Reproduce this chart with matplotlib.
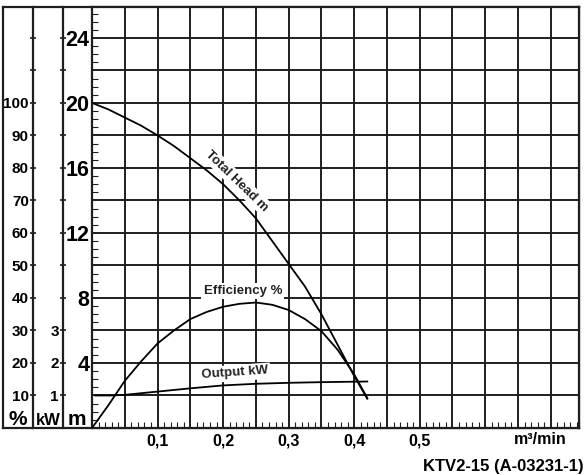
import matplotlib
matplotlib.use("Agg")
import matplotlib.pyplot as plt
import numpy as np
from matplotlib.ticker import MultipleLocator, FixedLocator

plt.rcParams['font.family'] = ['Liberation Sans', 'DejaVu Sans']
plt.rcParams['font.weight'] = 'bold'

# data
qHead = [0, 0.025, 0.05, 0.075, 0.1, 0.125, 0.15, 0.175, 0.2, 0.225, 0.25, 0.275,
         0.3, 0.325, 0.35, 0.375, 0.4, 0.42]
head = [20, 19.6, 19.1, 18.6, 18.0, 17.35, 16.6, 15.85, 15.0, 14.0, 12.9, 11.5,
        10.1, 8.7, 7.0, 5.1, 3.2, 1.8]

qEff = [0, 0.025, 0.05, 0.075, 0.1, 0.125, 0.15, 0.175, 0.2, 0.225, 0.25, 0.275,
        0.3, 0.325, 0.35, 0.375, 0.4, 0.42]
eff = [0, 7, 14.5, 20.5, 26, 30, 33.5, 35.7, 37.3, 38.2, 38.6, 37.9,
       36.3, 33.5, 29.8, 24, 16.5, 9.2]

qOut = [0.005, 0.03, 0.05, 0.1, 0.15, 0.2, 0.25, 0.3, 0.35, 0.42]
output = [1.0, 1.0, 1.02, 1.12, 1.22, 1.31, 1.36, 1.39, 1.41, 1.43]

xLabels = ['0,1', '0,2', '0,3', '0,4', '0,5']
xLabelPos = [0.1, 0.2, 0.3, 0.4, 0.5]

W, H = 587, 475
left, right, top, bottom = 92, 579, 7, 428
lineColor = '#1e1e1e'

fig = plt.figure(figsize=(W / 100, H / 100), dpi=100)
fig.patch.set_facecolor('white')

# outer frame over the whole width
frame = fig.add_axes([3 / W, 1 - bottom / H, (right - 3) / W, (bottom - top) / H])
frame.set_xticks([])
frame.set_yticks([])
for s in frame.spines.values():
    s.set_linewidth(1.6)
    s.set_color(lineColor)

ax = fig.add_axes([left / W, 1 - bottom / H, (right - left) / W, (bottom - top) / H])
ax.set_xlim(0, 0.743)
ax.set_ylim(0, 25.9)
for s in ax.spines.values():
    s.set_linewidth(1.6)
    s.set_color(lineColor)

ax.xaxis.set_major_locator(MultipleLocator(0.05))
ax.xaxis.set_minor_locator(MultipleLocator(0.01))
ax.yaxis.set_major_locator(MultipleLocator(2))
ax.yaxis.set_minor_locator(MultipleLocator(0.5))
ax.grid(True, which='major', color=lineColor, linewidth=1.4)
ax.tick_params(which='major', length=0)
ax.tick_params(which='minor', direction='in', length=4, width=0.8, color=lineColor)
ax.tick_params(axis='x', which='minor', top=False)
ax.tick_params(axis='y', which='minor', right=False)

xt = np.arange(0, 0.75, 0.05)
ax.set_xticks(xt)
ax.set_xticklabels([xLabels[xLabelPos.index(round(v, 2))] if round(v, 2) in xLabelPos else ''
                    for v in xt], fontsize=11.5, fontweight='bold')
ax.tick_params(axis='x', which='major', pad=4)
yt = np.arange(0, 26, 2)
ax.set_yticks(yt)
ax.set_yticklabels([str(v) if v % 4 == 0 and v > 0 else '' for v in yt],
                   fontsize=15.5, fontweight='bold')
ax.tick_params(axis='y', which='major', pad=2)

ax.plot(qHead, head, color='black', linewidth=1.3, zorder=3)

# percent axis
axPct = ax.twinx()
axPct.set_ylim(0, 25.9 * 5)
axPct.yaxis.set_ticks_position('left')
axPct.spines['left'].set_position(('axes', -(left - 33) / (right - left)))
for k in ['right', 'top', 'bottom']:
    axPct.spines[k].set_visible(False)
axPct.spines['left'].set_linewidth(1.6)
axPct.spines['left'].set_color(lineColor)
pt = np.arange(10, 130, 10)
axPct.yaxis.set_major_locator(FixedLocator(pt))
axPct.set_yticklabels([str(v) if v <= 100 else '' for v in pt], fontsize=11, fontweight='bold')
axPct.tick_params(axis='y', direction='inout', length=4, width=1.2, pad=1, color=lineColor)
axPct.plot(qEff, eff, color='black', linewidth=1.3)

# kW axis
axKw = ax.twinx()
axKw.set_ylim(0, 25.9 / 2)
axKw.yaxis.set_ticks_position('left')
axKw.spines['left'].set_position(('axes', -(left - 63) / (right - left)))
for k in ['right', 'top', 'bottom']:
    axKw.spines[k].set_visible(False)
axKw.spines['left'].set_linewidth(1.6)
axKw.spines['left'].set_color(lineColor)
kt = np.arange(1, 13, 1)
axKw.yaxis.set_major_locator(FixedLocator(kt))
axKw.set_yticklabels([str(v) if v <= 3 else '' for v in kt], fontsize=11, fontweight='bold')
axKw.tick_params(axis='y', direction='inout', length=4, width=1.2, pad=1, color=lineColor)
axKw.plot(qOut, output, color='black', linewidth=1.3)

box = dict(facecolor='white', edgecolor='none', pad=1.5)
axKw.text(0.221, 15.2, 'Total Head m', transform=ax.transData, rotation=-44,
          ha='center', va='center', fontsize=9.5, color='#222', bbox=box)
axKw.text(0.230, 8.43, 'Efficiency %', transform=ax.transData,
          ha='center', va='center', fontsize=9.5, color='#222', bbox=box)
axKw.text(0.218, 3.38, 'Output kW', transform=ax.transData, rotation=4,
          ha='center', va='center', fontsize=9.5, color='#222', bbox=box)

# unit labels at the foot of each scale
fig.text(18 / W, 1 - 425 / H, '%', ha='center', va='baseline', fontsize=15, fontweight='bold')
fig.text(48 / W, 1 - 425 / H, 'kW', ha='center', va='baseline', fontsize=12, fontweight='bold')
fig.text(77 / W, 1 - 425 / H, 'm', ha='center', va='baseline', fontsize=15, fontweight='bold')

fig.text(540 / W, 1 - 439 / H, 'm³/min', ha='center', va='center', fontsize=11.5, fontweight='bold')
fig.text(584 / W, 1 - 466 / H, 'KTV2-15 (A-03231-1)', ha='right', va='center',
         fontsize=12, fontweight='bold')

fig.savefig('out.png', dpi=100)
